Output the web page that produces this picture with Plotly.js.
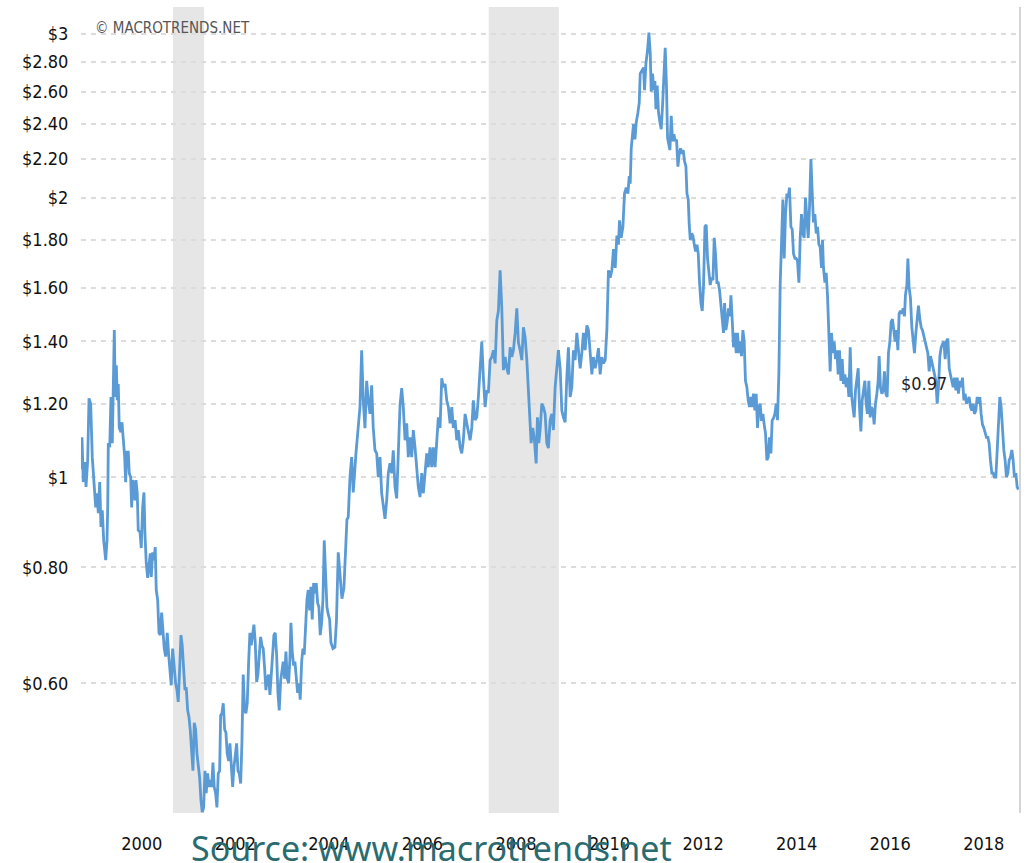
<!DOCTYPE html>
<html>
<head>
<meta charset="utf-8">
<script src="https://cdn.plot.ly/plotly-3.0.1.min.js"></script>
<style>
html,body{margin:0;padding:0;background:#fff;}
#chart{width:1030px;height:863px;}
</style>
</head>
<body>
<div id="chart"></div>
<script>
// Decimal year of each observation
const years = [
1999.201,1999.222,1999.250,1999.286,1999.308,1999.344,1999.372,1999.408,1999.442,1999.485,1999.515,1999.543,1999.571,1999.601,1999.628,1999.656,1999.686,1999.729,1999.757,1999.772,1999.785,1999.815,1999.842,1999.870,1999.892,1999.913,1999.934,1999.956,1999.977,1999.998,
2000.019,2000.056,2000.077,2000.105,2000.135,2000.156,2000.177,2000.212,2000.233,2000.263,2000.284,2000.306,2000.333,2000.355,2000.376,2000.404,2000.425,2000.462,2000.489,2000.519,2000.547,2000.568,2000.596,2000.626,2000.654,2000.682,2000.703,2000.733,2000.761,2000.788,2000.810,2000.840,2000.868,2000.895,2000.925,2000.953,2000.981,
2001.011,2001.045,2001.075,2001.103,2001.130,2001.160,2001.194,2001.224,2001.252,2001.280,2001.310,2001.338,2001.365,2001.395,2001.423,2001.451,2001.481,2001.509,2001.536,2001.566,2001.594,2001.622,2001.652,2001.680,2001.707,2001.737,2001.765,2001.793,2001.823,2001.851,2001.878,2001.908,2001.936,2001.964,2001.994,
2002.022,2002.049,2002.079,2002.107,2002.135,2002.165,2002.186,2002.214,2002.242,2002.272,2002.299,2002.327,2002.357,2002.385,2002.413,2002.443,2002.470,2002.498,2002.528,2002.556,2002.584,2002.614,2002.641,2002.669,2002.699,2002.727,2002.755,2002.785,2002.812,2002.840,2002.870,2002.898,2002.926,2002.956,2002.983,
2003.011,2003.041,2003.069,2003.097,2003.127,2003.154,2003.182,2003.212,2003.240,2003.268,2003.298,2003.325,2003.353,2003.383,2003.411,2003.439,2003.469,2003.496,2003.524,2003.554,2003.582,2003.610,2003.640,2003.667,2003.689,2003.717,2003.747,2003.774,2003.802,2003.832,2003.860,2003.888,2003.918,2003.945,2003.973,
2004.003,2004.031,2004.059,2004.089,2004.116,2004.144,2004.174,2004.202,2004.230,2004.260,2004.287,2004.315,2004.345,2004.373,2004.401,2004.431,2004.458,2004.486,2004.516,2004.544,2004.587,2004.629,2004.662,2004.700,2004.737,2004.779,2004.822,2004.854,2004.886,2004.914,2004.951,2004.987,
2005.021,2005.079,2005.128,2005.165,2005.201,2005.235,2005.272,2005.308,2005.342,2005.379,2005.415,2005.449,2005.486,2005.522,2005.556,2005.593,2005.629,2005.663,2005.700,2005.736,2005.770,2005.807,2005.843,2005.877,2005.914,2005.950,2005.984,
2006.021,2006.057,2006.091,2006.128,2006.164,2006.198,2006.235,2006.271,2006.305,2006.342,2006.378,2006.412,2006.449,2006.485,2006.519,2006.556,2006.592,2006.626,2006.663,2006.699,2006.733,2006.770,2006.806,2006.840,2006.877,2006.913,2006.947,2006.984,
2007.020,2007.054,2007.091,2007.127,2007.161,2007.198,2007.234,2007.268,2007.305,2007.341,2007.375,2007.412,2007.448,2007.482,2007.519,2007.555,2007.589,2007.626,2007.662,2007.696,2007.733,2007.769,2007.803,2007.840,2007.876,2007.910,2007.947,2007.983,
2008.017,2008.054,2008.090,2008.124,2008.161,2008.197,2008.231,2008.268,2008.304,2008.338,2008.375,2008.411,2008.445,2008.482,2008.518,2008.552,2008.589,2008.625,2008.659,2008.696,2008.732,2008.766,2008.803,2008.824,2008.860,2008.894,2008.931,2008.959,2008.988,
2009.016,2009.052,2009.086,2009.123,2009.159,2009.193,2009.230,2009.266,2009.300,2009.337,2009.373,2009.407,2009.444,2009.480,2009.514,2009.551,2009.587,2009.621,2009.658,2009.694,2009.728,2009.765,2009.801,2009.835,2009.872,2009.908,2009.942,2009.979,
2010.015,2010.049,2010.086,2010.122,2010.156,2010.193,2010.229,2010.263,2010.300,2010.336,2010.370,2010.407,2010.443,2010.477,2010.514,2010.550,2010.584,2010.621,2010.657,2010.691,2010.713,2010.749,2010.786,2010.820,2010.857,2010.893,2010.921,2010.942,2010.964,2010.991,
2011.013,2011.043,2011.071,2011.107,2011.135,2011.156,2011.193,2011.227,2011.248,2011.278,2011.312,2011.342,2011.370,2011.391,2011.419,2011.449,2011.470,2011.492,2011.519,2011.547,2011.577,2011.605,2011.633,2011.663,2011.690,2011.718,2011.740,2011.769,2011.791,2011.819,2011.847,2011.877,2011.904,2011.932,2011.962,2011.990,
2012.018,2012.048,2012.076,2012.103,2012.133,2012.155,2012.183,2012.204,2012.226,2012.253,2012.283,2012.311,2012.339,2012.369,2012.397,2012.424,2012.454,2012.482,2012.510,2012.540,2012.567,2012.595,2012.625,2012.653,2012.681,2012.711,2012.738,2012.766,2012.796,2012.824,2012.852,2012.882,2012.909,2012.937,2012.959,2012.988,
2013.016,2013.043,2013.073,2013.095,2013.122,2013.150,2013.180,2013.208,2013.236,2013.266,2013.293,2013.321,2013.351,2013.379,2013.406,2013.436,2013.464,2013.492,2013.522,2013.549,2013.577,2013.607,2013.635,2013.663,2013.693,2013.720,2013.748,2013.778,2013.806,2013.834,2013.864,2013.892,2013.920,2013.950,2013.977,
2014.005,2014.035,2014.063,2014.091,2014.121,2014.148,2014.176,2014.206,2014.234,2014.262,2014.292,2014.319,2014.347,2014.377,2014.405,2014.433,2014.463,2014.490,2014.518,2014.548,2014.576,2014.604,2014.634,2014.661,2014.689,2014.719,2014.747,2014.775,2014.805,2014.832,2014.860,2014.890,2014.918,2014.946,2014.976,
2015.003,2015.031,2015.053,2015.074,2015.104,2015.132,2015.160,2015.190,2015.217,2015.245,2015.275,2015.303,2015.330,2015.360,2015.388,2015.416,2015.446,2015.474,2015.501,2015.531,2015.559,2015.587,2015.617,2015.645,2015.672,2015.702,2015.730,2015.758,2015.788,2015.816,2015.843,2015.873,2015.901,2015.929,2015.959,2015.986,
2016.014,2016.044,2016.072,2016.100,2016.130,2016.157,2016.185,2016.215,2016.243,2016.264,2016.292,2016.322,2016.350,2016.377,2016.407,2016.435,2016.463,2016.493,2016.520,2016.548,2016.578,2016.606,2016.634,2016.664,2016.691,2016.719,2016.749,2016.777,2016.805,2016.826,2016.856,2016.878,2016.905,2016.933,2016.963,2016.991,
2017.019,2017.049,2017.076,2017.104,2017.134,2017.162,2017.190,2017.220,2017.247,2017.275,2017.305,2017.333,2017.361,2017.391,2017.418,2017.446,2017.476,2017.504,2017.532,2017.562,2017.590,2017.617,2017.647,2017.675,2017.703,2017.733,2017.761,2017.788,2017.818,2017.846,2017.874,2017.904,2017.932,2017.959,2017.989,
2018.017,2018.045,2018.075,2018.102,2018.130,2018.160,2018.188,2018.216,2018.246,2018.273,2018.301,2018.331,2018.359,2018.387,2018.417,2018.444,2018.472,2018.502,2018.530,2018.558,2018.588,2018.615,2018.643,2018.673,2018.701,2018.729,2018.759,2018.786,2018.814,2018.844,2018.872,2018.900,2018.929,2018.957,2018.985,
2019.015,2019.043,2019.071,2019.101,2019.128,2019.156,2019.186,2019.214,2019.242
];

// Price in US dollars per pound
const prices = [
1.02,1.104,0.988,1.038,0.976,1.043,1.216,1.20,1.051,0.976,0.928,0.961,0.915,0.988,0.884,0.921,0.855,0.814,0.855,0.928,1.088,1.077,1.22,1.088,1.232,1.44,1.22,1.32,1.21,1.26,
1.13,1.118,1.146,1.096,1.051,0.988,1.064,1.064,1.01,1.0,0.928,0.993,0.976,0.944,0.993,0.961,0.877,0.873,0.839,0.928,0.963,0.870,0.808,0.779,0.808,0.828,0.781,0.830,0.814,0.841,0.756,0.738,0.68,0.676,0.715,0.676,0.654,
0.641,0.680,0.644,0.622,0.597,0.654,0.622,0.60,0.59,0.573,0.622,0.676,0.659,0.622,0.59,0.594,0.561,0.552,0.535,0.507,0.483,0.544,0.535,0.504,0.487,0.475,0.449,0.436,0.441,0.483,0.457,0.480,0.464,0.472,0.464,
0.493,0.464,0.457,0.441,0.480,0.483,0.554,0.557,0.571,0.535,0.531,0.504,0.495,0.517,0.495,0.464,0.487,0.504,0.517,0.483,0.480,0.468,0.517,0.613,0.561,0.557,0.571,0.633,0.68,0.659,0.676,0.694,0.664,0.602,0.613,
0.644,0.673,0.659,0.654,0.622,0.59,0.607,0.613,0.583,0.613,0.633,0.676,0.680,0.644,0.586,0.561,0.604,0.622,0.633,0.607,0.649,0.607,0.60,0.638,0.697,0.649,0.627,0.633,0.607,0.586,0.60,0.576,0.633,0.654,0.644,
0.697,0.738,0.756,0.719,0.762,0.703,0.769,0.75,0.769,0.732,0.725,0.676,0.697,0.738,0.855,0.788,0.725,0.712,0.703,0.664,0.654,0.656,0.70,0.83,0.79,0.74,0.76,0.82,0.90,0.906,1.00,1.051,
0.963,1.061,1.13,1.19,1.37,1.21,1.129,1.27,1.21,1.17,1.256,1.13,1.069,1.061,1.0,1.051,0.961,0.928,0.902,0.944,1.01,1.035,1.01,1.069,0.976,0.949,1.043,
1.195,1.247,1.19,1.096,1.143,1.051,1.104,1.051,1.124,1.077,1.017,0.976,0.952,1.01,0.961,1.01,1.061,1.025,1.077,1.025,1.077,1.025,1.096,1.16,1.13,1.278,1.25,1.26,
1.21,1.19,1.143,1.19,1.13,1.152,1.096,1.124,1.077,1.061,1.096,1.17,1.143,1.124,1.096,1.13,1.21,1.152,1.16,1.22,1.31,1.40,1.281,1.19,1.24,1.232,1.337,1.347,
1.37,1.326,1.475,1.51,1.67,1.52,1.304,1.347,1.31,1.29,1.38,1.347,1.37,1.43,1.52,1.396,1.37,1.337,1.45,1.414,1.337,1.24,1.13,1.088,1.13,1.096,1.035,1.16,1.088,
1.124,1.20,1.19,1.17,1.088,1.075,1.152,1.17,1.124,1.25,1.31,1.37,1.31,1.18,1.16,1.146,1.281,1.38,1.22,1.25,1.37,1.337,1.43,1.37,1.31,1.36,1.43,1.37,
1.457,1.44,1.37,1.29,1.347,1.31,1.337,1.377,1.29,1.347,1.326,1.337,1.44,1.67,1.64,1.67,1.76,1.68,1.82,1.78,1.89,1.81,1.86,2.02,2.05,2.02,2.11,2.07,2.26,2.36,
2.40,2.31,2.41,2.47,2.53,2.72,2.74,2.76,2.61,2.79,2.88,3.01,2.86,2.60,2.72,2.61,2.67,2.49,2.64,2.47,2.41,2.37,2.51,2.70,2.90,2.63,2.32,2.28,2.25,2.45,2.30,2.34,2.30,2.31,2.16,2.23,
2.26,2.23,2.25,2.19,2.16,2.02,1.99,1.87,1.80,1.83,1.82,1.78,1.75,1.78,1.74,1.62,1.54,1.51,1.61,1.86,1.87,1.72,1.66,1.61,1.64,1.63,1.81,1.74,1.62,1.62,1.59,1.52,1.48,1.43,1.54,1.44,
1.47,1.52,1.49,1.57,1.48,1.38,1.43,1.36,1.43,1.36,1.40,1.35,1.44,1.40,1.27,1.25,1.21,1.19,1.22,1.19,1.23,1.18,1.23,1.13,1.19,1.20,1.15,1.17,1.14,1.115,1.043,1.051,1.104,1.061,1.152,
1.157,1.17,1.20,1.152,1.30,1.61,1.81,1.99,1.72,1.92,2.02,2.00,2.05,1.86,1.85,1.74,1.72,1.72,1.71,1.62,1.81,1.92,1.83,1.81,2.00,1.88,1.81,1.95,2.20,2.03,1.88,1.92,1.83,1.86,1.78,
1.77,1.68,1.80,1.68,1.62,1.66,1.57,1.43,1.30,1.43,1.36,1.40,1.34,1.37,1.29,1.37,1.27,1.34,1.26,1.29,1.25,1.28,1.22,1.38,1.23,1.19,1.16,1.24,1.27,1.31,1.19,1.12,1.21,1.24,1.27,1.20,
1.17,1.27,1.16,1.19,1.18,1.14,1.20,1.23,1.27,1.35,1.25,1.23,1.24,1.30,1.23,1.22,1.36,1.40,1.47,1.48,1.44,1.40,1.44,1.37,1.50,1.51,1.50,1.52,1.49,1.57,1.61,1.72,1.60,1.56,1.45,1.40,
1.36,1.43,1.49,1.53,1.48,1.45,1.44,1.42,1.40,1.38,1.36,1.30,1.35,1.33,1.31,1.29,1.27,1.20,1.25,1.35,1.38,1.39,1.40,1.34,1.40,1.41,1.31,1.29,1.27,1.25,1.28,1.24,1.28,1.23,1.27,
1.25,1.28,1.21,1.23,1.20,1.21,1.22,1.19,1.18,1.20,1.17,1.18,1.22,1.20,1.22,1.17,1.14,1.13,1.115,1.104,1.104,1.088,1.043,1.01,1.01,1.00,1.00,1.06,1.13,1.22,1.19,1.115,1.07,1.043,1.00,
1.01,1.043,1.051,1.07,1.043,1.00,1.01,0.976,0.97
];

const xTickYears = ["2000","2002","2004","2006","2008","2010","2012","2014","2016","2018"];
const yTickValues = [0.6,0.8,1,1.2,1.4,1.6,1.8,2,2.2,2.4,2.6,2.8,3];
const yTickLabels = ["$0.60","$0.80","$1","$1.20","$1.40","$1.60","$1.80","$2","$2.20","$2.40","$2.60","$2.80","$3"];
const recessionStart = [2001.167, 2007.917];
const recessionEnd = [2001.833, 2009.417];
const lastLabel = "$0.97";
const lastLabelYear = 2017.23;
const lastLabelPrice = 1.263;

const condensed = "DejaVu Sans Condensed, DejaVu Sans, sans-serif";
const tickFont = {family: condensed, size: 18, color: "#111"};

const shapes = recessionStart.map((s, i) => ({
  type: "rect", xref: "x", yref: "paper",
  x0: s, x1: recessionEnd[i], y0: 0, y1: 1,
  fillcolor: "#e6e6e6", line: {width: 0}, layer: "below"
}));
shapes.push({type: "line", xref: "paper", yref: "paper", x0: 1, x1: 1, y0: 0, y1: 1,
  line: {color: "#d4d4d4", width: 2}});

const trace = {
  x: years, y: prices, type: "scatter", mode: "lines",
  line: {color: "#5b9bd5", width: 2.8},
  hoverinfo: "skip"
};

const layout = {
  width: 1030, height: 863,
  margin: {l: 81, r: 10, t: 7, b: 50},
  paper_bgcolor: "#fff", plot_bgcolor: "rgba(0,0,0,0)",
  showlegend: false,
  xaxis: {
    range: [1999.201, 2019.275],
    tickvals: xTickYears.map(y => Number(y) + 0.5),
    ticktext: xTickYears,
    showgrid: false, zeroline: false, showline: false,
    ticks: "outside", ticklen: 14, tickcolor: "rgba(0,0,0,0)",
    tickfont: tickFont
  },
  yaxis: {
    type: "log",
    range: [Math.log10(0.435), Math.log10(3.208)],
    tickvals: yTickValues, ticktext: yTickLabels,
    showgrid: true, gridcolor: "#dcdcdc", gridwidth: 2, griddash: "5px,5px",
    zeroline: false, showline: false,
    ticks: "outside", ticklen: 8, tickcolor: "rgba(0,0,0,0)",
    tickfont: tickFont
  },
  shapes: shapes,
  annotations: [
    {xref: "paper", yref: "paper", x: 0.0128, y: 0.974, xanchor: "left", yanchor: "middle",
     text: "© MACROTRENDS.NET", showarrow: false,
     font: {family: condensed, size: 15, color: "#555"}},
    {xref: "x", yref: "y", x: lastLabelYear, y: Math.log10(lastLabelPrice), xanchor: "center", yanchor: "middle",
     text: lastLabel, showarrow: false,
     font: {family: condensed, size: 18, color: "#222"}},
    {xref: "paper", yref: "paper", x: 0.373, y: -0.043, xanchor: "center", yanchor: "middle",
     text: "Source: www.macrotrends.net", showarrow: false,
     font: {family: "Noto Sans, sans-serif", size: 34, color: "#2a6b70"}}
  ]
};

Plotly.newPlot("chart", [trace], layout, {displayModeBar: false, staticPlot: true});
</script>
</body>
</html>
